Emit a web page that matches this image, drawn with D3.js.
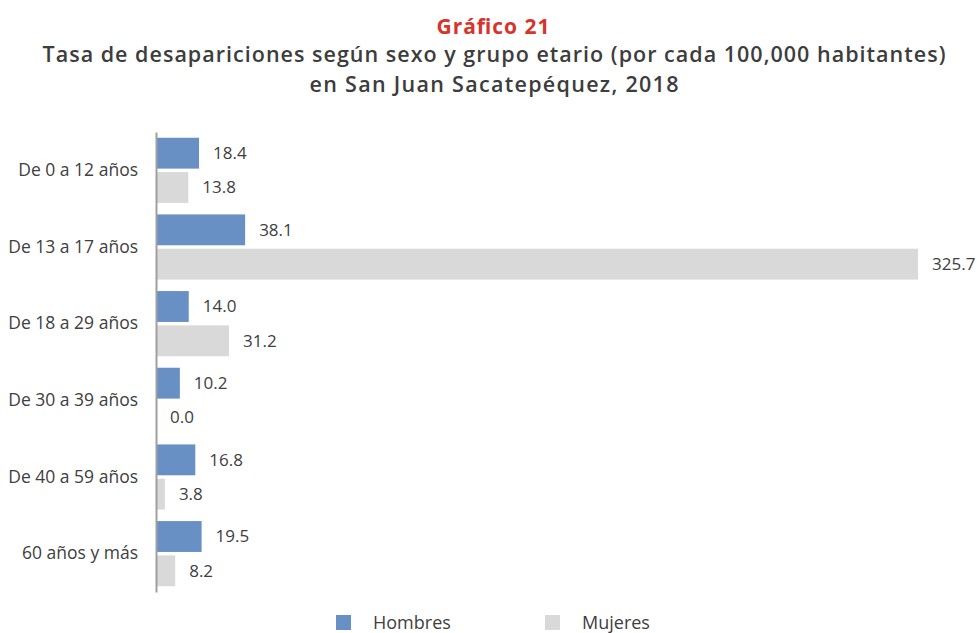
<!DOCTYPE html>
<html>
<head>
<meta charset="utf-8">
<script src="https://cdn.jsdelivr.net/npm/d3@7"></script>
<style>
  body { margin: 0; background: #fff; }
  svg { display: block; }
</style>
</head>
<body>
<svg id="chart" width="977" height="633"></svg>
<script>
const categories = ["De 0 a 12 años", "De 13 a 17 años", "De 18 a 29 años", "De 30 a 39 años", "De 40 a 59 años", "60 años y más"];
const seriesNames = ["Hombres", "Mujeres"];
const hombres = [18.4, 38.1, 14.0, 10.2, 16.8, 19.5];
const mujeres = [13.8, 325.7, 31.2, 0.0, 3.8, 8.2];
const colors = ["#6890C4", "#D9D9D9"];
const titleText = "Gráfico 21";
const subtitleLines = ["Tasa de desapariciones según sexo y grupo etario (por cada 100,000 habitantes)", "en San Juan Sacatepéquez, 2018"];

const svg = d3.select("#chart");
const labelFont = "'Open Sans', sans-serif";
const titleFont = "'Open Sans', sans-serif";

// Title
svg.append("text").attr("x", 493).attr("y", 34).attr("text-anchor", "middle")
  .attr("font-family", titleFont).attr("font-weight", 700).attr("font-size", 21)
  .attr("textLength", 113).attr("lengthAdjust", "spacing")
  .attr("fill", "#D7342A").text(titleText);
const subLens = [903, 369];
subtitleLines.forEach((t, i) => {
  svg.append("text").attr("x", 494).attr("y", 62 + i * 30).attr("text-anchor", "middle")
    .attr("font-family", titleFont).attr("font-weight", 600).attr("font-size", 21.5)
    .attr("textLength", subLens[i]).attr("lengthAdjust", "spacing")
    .attr("fill", "#3D3D3D").text(t);
});

const x = d3.scaleLinear().domain([0, 325.7]).range([156, 918]);
const y0 = d3.scaleBand().domain(categories).range([132, 592]).paddingInner(0.15).paddingOuter(0.075);
const y1 = d3.scaleBand().domain(seriesNames).range([0, y0.bandwidth()]).paddingInner(0.1);

const data = categories.map((c, i) => ({ cat: c, vals: [
  { s: "Hombres", v: hombres[i] }, { s: "Mujeres", v: mujeres[i] }
]}));

const g = svg.append("g");
const groups = g.selectAll("g.grp").data(data).enter().append("g")
  .attr("transform", d => `translate(0,${y0(d.cat)})`);
groups.selectAll("rect").data(d => d.vals).enter().append("rect")
  .attr("x", x(0)).attr("y", d => y1(d.s))
  .attr("width", d => x(d.v) - x(0)).attr("height", y1.bandwidth())
  .attr("fill", (d, i) => colors[i]);
groups.selectAll("text").data(d => d.vals).enter().append("text")
  .attr("x", d => x(d.v) + 14).attr("y", d => y1(d.s) + y1.bandwidth() / 2)
  .attr("dy", "0.35em").attr("font-family", labelFont).attr("font-size", 17)
  .attr("fill", "#404040").text(d => d.v.toFixed(1));

// Axis
const axis = svg.append("g").attr("transform", `translate(${x(0)},0)`)
  .call(d3.axisLeft(y0).tickSize(0).tickPadding(18).tickSizeOuter(0));
axis.select(".domain").attr("stroke", "#A0A0A0").attr("stroke-width", 2);
axis.selectAll(".tick text").attr("font-family", labelFont).attr("font-size", 17.5)
  .attr("fill", "#404040");

// Legend
const legendX = [336, 545];
seriesNames.forEach((s, i) => {
  svg.append("rect").attr("x", legendX[i]).attr("y", 615).attr("width", 15).attr("height", 15)
    .attr("fill", colors[i]);
  svg.append("text").attr("x", legendX[i] + 37).attr("y", 629)
    .attr("font-family", labelFont).attr("font-size", 18).attr("fill", "#404040").text(s);
});
</script>
</body>
</html>
